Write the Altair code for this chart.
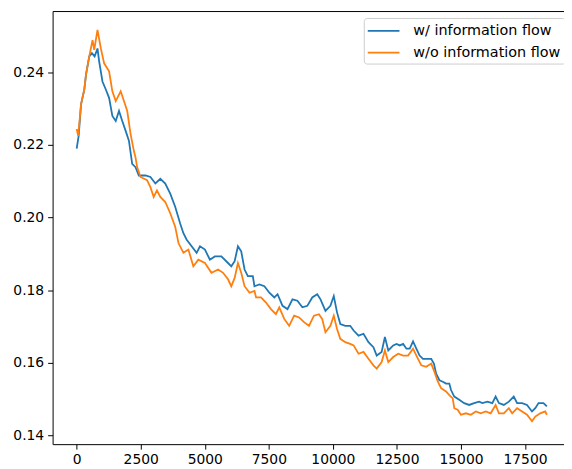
import altair as alt
import pandas as pd

series_names = ["w/ information flow", "w/o information flow"]
series_colors = ["#1f77b4", "#ff7f0e"]

steps_w = [0, 77, 170, 298, 364, 491, 595, 700, 813, 878, 1006, 1137, 1265, 1393, 1524,
           1652, 1779, 1911, 2039, 2166, 2296, 2426, 2685, 2878, 3071, 3265, 3458, 3652,
           3845, 4039, 4166, 4294, 4487, 4681, 4812, 5006, 5199, 5393, 5648, 5907, 6035,
           6166, 6294, 6422, 6553, 6681, 6874, 6940, 7133, 7327, 7520, 7714, 7841, 8035,
           8228, 8422, 8615, 8809, 9002, 9195, 9389, 9517, 9710, 9903, 10035, 10162, 10290,
           10484, 10677, 10809, 11002, 11195, 11389, 11582, 11710, 11903, 12031, 12162,
           12356, 12484, 12611, 12743, 12870, 13000, 13129, 13257, 13385, 13516, 13710,
           13838, 13942, 14031, 14159, 14290, 14418, 14545, 14611, 14739, 14932, 15126,
           15319, 15513, 15706, 15838, 16031, 16224, 16352, 16480, 16673, 16867, 17060,
           17191, 17385, 17578, 17772, 17900, 18027, 18220, 18352]
loss_w = [0.2190, 0.2225, 0.2312, 0.2353, 0.2394, 0.2444, 0.2453, 0.2444, 0.2466, 0.2430,
          0.2375, 0.2353, 0.2330, 0.2280, 0.2266, 0.2294, 0.2266, 0.2239, 0.2212, 0.2148,
          0.2139, 0.2116, 0.2116, 0.2112, 0.2094, 0.2107, 0.2094, 0.2066, 0.2030, 0.1984,
          0.1957, 0.1939, 0.1921, 0.1903, 0.1921, 0.1912, 0.1884, 0.1893, 0.1893, 0.1875,
          0.1866, 0.1880, 0.1921, 0.1907, 0.1857, 0.1839, 0.1839, 0.1811, 0.1816, 0.1811,
          0.1793, 0.1780, 0.1789, 0.1757, 0.1748, 0.1775, 0.1771, 0.1753, 0.1757, 0.1780,
          0.1789, 0.1775, 0.1743, 0.1757, 0.1784, 0.1739, 0.1707, 0.1702, 0.1702, 0.1689,
          0.1675, 0.1680, 0.1657, 0.1643, 0.1620, 0.1630, 0.1671, 0.1634, 0.1648, 0.1652,
          0.1648, 0.1652, 0.1639, 0.1639, 0.1659, 0.1639, 0.1620, 0.1611, 0.1611, 0.1611,
          0.1598, 0.1570, 0.1552, 0.1548, 0.1543, 0.1543, 0.1525, 0.1507, 0.1498, 0.1489,
          0.1484, 0.1489, 0.1493, 0.1489, 0.1493, 0.1489, 0.1507, 0.1489, 0.1484, 0.1493,
          0.1507, 0.1489, 0.1489, 0.1484, 0.1466, 0.1475, 0.1489, 0.1489, 0.1480]

steps_wo = [0, 60, 170, 298, 364, 491, 619, 685, 750, 813, 943, 1072, 1265, 1393, 1524,
            1718, 1845, 1973, 2104, 2232, 2296, 2360, 2491, 2747, 2878, 3006, 3133, 3265,
            3458, 3652, 3845, 3973, 4166, 4360, 4553, 4747, 5006, 5261, 5520, 5714, 5907,
            6035, 6166, 6294, 6422, 6553, 6747, 6940, 7002, 7195, 7389, 7582, 7776, 7907,
            8101, 8294, 8488, 8681, 8874, 9068, 9261, 9455, 9582, 9710, 9903, 10035, 10162,
            10290, 10484, 10677, 10809, 11002, 11195, 11389, 11582, 11710, 11903, 12031,
            12162, 12356, 12549, 12743, 12935, 13129, 13322, 13451, 13644, 13838, 13965,
            14097, 14224, 14418, 14545, 14677, 14739, 14870, 14998, 15191, 15385, 15578,
            15772, 15965, 16159, 16352, 16480, 16673, 16867, 16998, 17191, 17385, 17578,
            17772, 17900, 18093, 18286, 18352]
loss_wo = [0.2244, 0.2225, 0.2312, 0.2353, 0.2394, 0.2444, 0.2489, 0.2462, 0.2490, 0.2517,
           0.2466, 0.2425, 0.2403, 0.2348, 0.2321, 0.2348, 0.2321, 0.2294, 0.2230, 0.2184,
           0.2166, 0.2139, 0.2112, 0.2103, 0.2084, 0.2057, 0.2075, 0.2057, 0.2043, 0.2012,
           0.1975, 0.1930, 0.1903, 0.1912, 0.1866, 0.1884, 0.1875, 0.1848, 0.1857, 0.1848,
           0.1830, 0.1811, 0.1834, 0.1875, 0.1848, 0.1811, 0.1793, 0.1798, 0.1780, 0.1780,
           0.1766, 0.1748, 0.1734, 0.1753, 0.1721, 0.1702, 0.1730, 0.1725, 0.1712, 0.1702,
           0.1730, 0.1734, 0.1721, 0.1684, 0.1702, 0.1730, 0.1693, 0.1666, 0.1657, 0.1652,
           0.1648, 0.1625, 0.1630, 0.1611, 0.1593, 0.1584, 0.1602, 0.1634, 0.1602, 0.1616,
           0.1625, 0.1620, 0.1620, 0.1639, 0.1611, 0.1593, 0.1589, 0.1598, 0.1575, 0.1548,
           0.1530, 0.1521, 0.1511, 0.1502, 0.1475, 0.1471, 0.1457, 0.1461, 0.1457, 0.1466,
           0.1461, 0.1466, 0.1461, 0.1484, 0.1461, 0.1461, 0.1475, 0.1461, 0.1475, 0.1466,
           0.1457, 0.1439, 0.1452, 0.1461, 0.1466, 0.1457]

x_ticks = [0, 2500, 5000, 7500, 10000, 12500, 15000, 17500]
y_ticks = [0.14, 0.16, 0.18, 0.20, 0.22, 0.24]

df = pd.concat([
    pd.DataFrame({"step": steps_w, "loss": loss_w, "series": series_names[0]}),
    pd.DataFrame({"step": steps_wo, "loss": loss_wo, "series": series_names[1]}),
], ignore_index=True)

xscale = alt.Scale(domain=[-940, 19021], nice=False, zero=False)
yscale = alt.Scale(domain=[0.1376, 0.2569], nice=False, zero=False)
y_axis = alt.Axis(orient="left", values=y_ticks, format=".2f", title=None, grid=False)

lines = alt.Chart(df).mark_line(strokeWidth=1.8, clip=True).encode(
    x=alt.X("step:Q", scale=xscale,
            axis=alt.Axis(orient="bottom", values=x_ticks, format="d", title=None, grid=False)),
    y=alt.Y("loss:Q", scale=yscale, axis=y_axis),
    color=alt.Color("series:N",
                    scale=alt.Scale(domain=series_names, range=series_colors),
                    legend=alt.Legend(title=None, orient="none", legendX=314, legendY=7,
                                      symbolType="M-2,0H2", symbolSize=256,
                                      symbolOffset=7, symbolStrokeWidth=1.8,
                                      labelFontSize=14.5, labelFont="DejaVu Sans",
                                      labelColor="black", labelOffset=21, padding=4,
                                      rowPadding=6, strokeColor="#cccccc",
                                      fillColor="white", cornerRadius=3)),
)

top_spine = alt.Chart(df).mark_line(opacity=0).encode(
    x=alt.X("step:Q", scale=xscale,
            axis=alt.Axis(orient="top", labels=False, ticks=False, domain=True,
                          grid=False, title=None)),
    y=alt.Y("loss:Q", scale=yscale, axis=y_axis),
)

chart = alt.layer(lines, top_spine).properties(
    width=516,
    height=437,
    autosize=alt.AutoSizeParams(type="none"),
    padding={"left": 45, "top": 1, "right": 0, "bottom": 23},
    background="white",
).configure_view(stroke=None).configure_axis(
    domainColor="black", domainWidth=1, tickColor="black", tickSize=5, tickWidth=1,
    labelFont="DejaVu Sans", labelFontSize=14, labelColor="black", labelPadding=4,
)

chart.save("out.html", embed_options={"renderer": "svg", "actions": False})
